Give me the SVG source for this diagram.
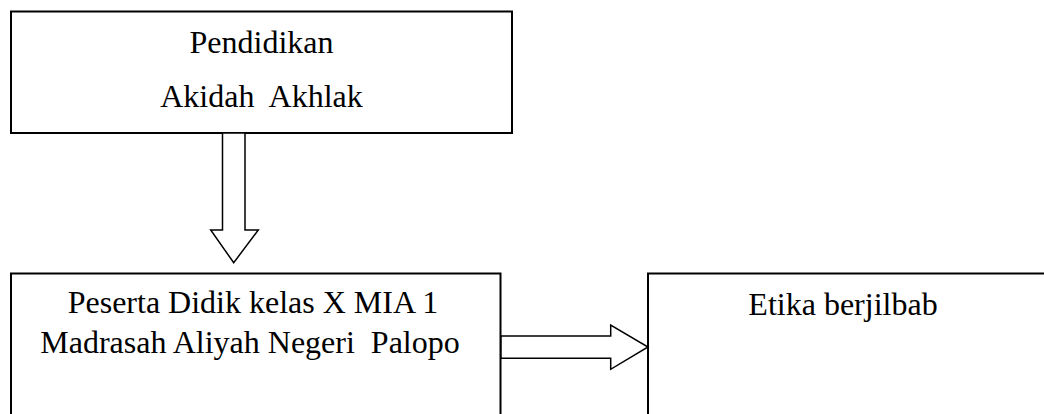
<svg xmlns="http://www.w3.org/2000/svg" width="1044" height="414" viewBox="0 0 1044 414">
<style>
.box{fill:#fff;stroke:#000;stroke-width:2}
.arrow{fill:#fff;stroke:#000;stroke-width:1.5;stroke-linejoin:miter}
.t{font-family:"Liberation Serif","Times New Roman",serif;font-size:32px;fill:#000;text-anchor:middle;white-space:pre}
</style>
<rect width="1044" height="414" fill="#fff"/>
<g id="node-pendidikan">
<rect class="box" x="11" y="11.5" width="501" height="121.5"/>
<text class="t" x="261.5" y="53">Pendidikan</text>
<text class="t" x="261.5" y="107" xml:space="preserve">Akidah  Akhlak</text>
</g>
<g id="node-peserta">
<rect class="box" x="11" y="273.5" width="489.5" height="160"/>
<text class="t" x="253" y="313">Peserta Didik kelas X MIA 1</text>
<text class="t" x="250" y="352.5" xml:space="preserve">Madrasah Aliyah Negeri  Palopo</text>
</g>
<g id="node-etika">
<rect class="box" x="648" y="273.5" width="420" height="160"/>
<text class="t" x="843" y="315">Etika berjilbab</text>
</g>
<g id="connectors">
<polygon class="arrow" points="222.5,133 245,133 245,230 258.3,230 233.7,262.7 210.7,230 222.5,230"/>
<polygon class="arrow" points="501,336 610.7,336 610.7,325 648,347 610.7,369.3 610.7,358.3 501,358.3"/>
</g>
</svg>
